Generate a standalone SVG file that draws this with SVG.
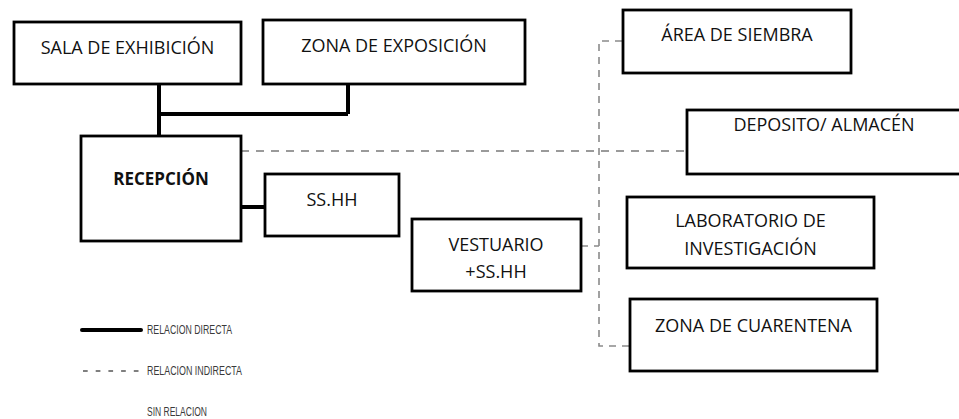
<svg xmlns="http://www.w3.org/2000/svg" width="959" height="419" viewBox="0 0 959 419">
  <style>
    .box { fill: #ffffff; stroke: #000000; stroke-width: 2.8; }
    .lbl { font-family: "Open Sans", "Liberation Sans", sans-serif; font-size: 18px; fill: #111111; text-anchor: middle; }
    .bold { font-weight: bold; font-size: 17px; }
    .solid { fill: none; stroke: #000000; stroke-width: 4; }
    .dash { fill: none; stroke: #9a9a9a; stroke-width: 2; stroke-dasharray: 8 7; }
    .dashv { fill: none; stroke: #8a8a8a; stroke-width: 1.6; stroke-dasharray: 7 6; }
    .leg { font-family: "Liberation Sans", "DejaVu Sans", sans-serif; font-size: 12.5px; fill: #3a3a3a; }
  </style>
  <rect width="959" height="419" fill="#ffffff"/>

  <g id="connectors">
    <path class="solid" d="M159 84 V136 M159 114 H348 M348 84 V114"/>
    <path class="solid" d="M241 207 H265"/>
    <path class="dash" d="M241 151 H687"/>
    <path class="dashv" d="M622 41 H599 V346 H630"/>
    <path class="dashv" d="M581 246 H599"/>
  </g>

  <g id="sala-exhibicion">
    <rect class="box" x="14" y="22" width="227" height="62"/>
    <text class="lbl" x="127.5" y="54">SALA DE EXHIBICIÓN</text>
  </g>
  <g id="zona-exposicion">
    <rect class="box" x="263" y="20" width="262" height="64"/>
    <text class="lbl" x="394" y="52">ZONA DE EXPOSICIÓN</text>
  </g>
  <g id="recepcion">
    <rect class="box" x="81" y="136" width="160" height="105"/>
    <text class="lbl bold" x="161" y="185">RECEPCIÓN</text>
  </g>
  <g id="sshh">
    <rect class="box" x="265" y="174" width="134" height="62"/>
    <text class="lbl" x="332" y="206">SS.HH</text>
  </g>
  <g id="vestuario">
    <rect class="box" x="412" y="219" width="169" height="72"/>
    <text class="lbl" x="496" y="251">VESTUARIO</text>
    <text class="lbl" x="496" y="278">+SS.HH</text>
  </g>
  <g id="area-siembra">
    <rect class="box" x="623" y="10" width="228" height="63"/>
    <text class="lbl" x="737" y="41">ÁREA DE SIEMBRA</text>
  </g>
  <g id="deposito">
    <rect class="box" x="687" y="110" width="290" height="64"/>
    <text class="lbl" x="824" y="131">DEPOSITO/ ALMACÉN</text>
  </g>
  <g id="laboratorio">
    <rect class="box" x="627" y="197" width="247" height="71"/>
    <text class="lbl" x="750.5" y="227">LABORATORIO DE</text>
    <text class="lbl" x="750.5" y="255">INVESTIGACIÓN</text>
  </g>
  <g id="cuarentena">
    <rect class="box" x="630" y="299" width="247" height="72"/>
    <text class="lbl" x="753.5" y="332">ZONA DE CUARENTENA</text>
  </g>

  <g id="legend">
    <line x1="82" y1="330" x2="141" y2="330" stroke="#000000" stroke-width="4" stroke-linecap="round"/>
    <text class="leg" x="147" y="333.5" textLength="85" lengthAdjust="spacingAndGlyphs">RELACION DIRECTA</text>
    <line x1="83" y1="371" x2="141" y2="371" stroke="#555555" stroke-width="1.3" stroke-dasharray="4.7 8"/>
    <text class="leg" x="147" y="374.5" textLength="95" lengthAdjust="spacingAndGlyphs">RELACION INDIRECTA</text>
    <text class="leg" x="147" y="416" textLength="60" lengthAdjust="spacingAndGlyphs">SIN RELACION</text>
  </g>
</svg>
